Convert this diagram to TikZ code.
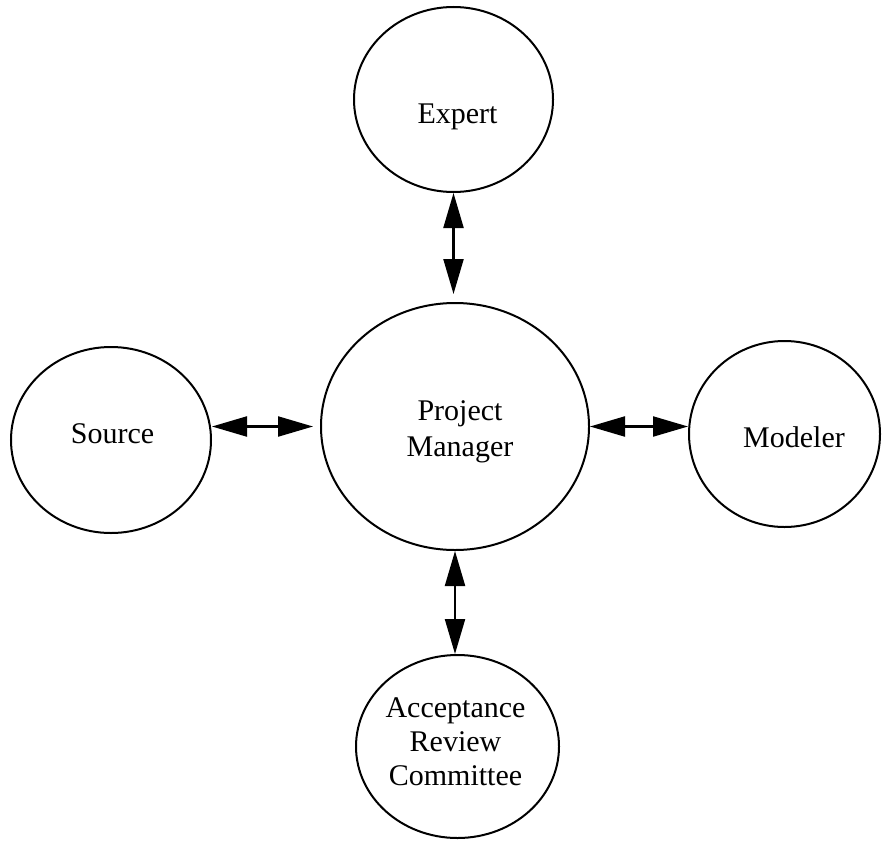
\documentclass[tikz,border=0pt]{standalone}
\usepackage{fontspec}
\setmainfont{Liberation Serif}
\usetikzlibrary{shapes.geometric,arrows.meta}
\begin{document}
\begin{tikzpicture}[x=1pt,y=-1pt,
  actor/.style={ellipse,draw,line width=2pt,inner sep=0pt},
  lbl/.style={font=\fontsize{30}{34}\selectfont,inner sep=0pt,align=center},
  link/.style={line width=2.2pt,
    {Triangle[length=35pt,width=20pt]}-{Triangle[length=35pt,width=20pt]}}]
\useasboundingbox (0,0) rectangle (882,840);

% the five roles
\node[actor,minimum width=199pt,minimum height=185pt] (exp) at (453.5,99.5) {};
\node[actor,minimum width=268pt,minimum height=247pt] (pm)  at (455,426.5) {};
\node[actor,minimum width=200pt,minimum height=186pt] (src) at (111,440) {};
\node[actor,minimum width=191pt,minimum height=186pt] (mod) at (784.5,434) {};
\node[actor,minimum width=203pt,minimum height=183pt] (acc) at (457.5,746.5) {};

% their names
\node[lbl,anchor=base] (expT) at (457.5,123) {Expert};
\node[lbl,anchor=base] (srcT) at (112.5,443) {Source};
\node[lbl,anchor=base] (modT) at (794,447) {Modeler};
\node[lbl,anchor=base,font=\fontsize{30}{36}\selectfont] (pmT) at (460,456) {Project\\Manager};
\node[lbl,anchor=base] (accT) at (455.5,785) {Acceptance\\Review\\Committee};

% two-way links
\draw[link,shorten >=8pt] (exp.south) -- (exp.south |- pm.north);
\draw[link,shorten >=7pt] (src.east |- pm.west) -- (pm.west);
\draw[link] (pm.east) -- (pm.east -| mod.west);
\draw[link] (pm.south) -- (pm.south |- acc.north);
\end{tikzpicture}
\end{document}
